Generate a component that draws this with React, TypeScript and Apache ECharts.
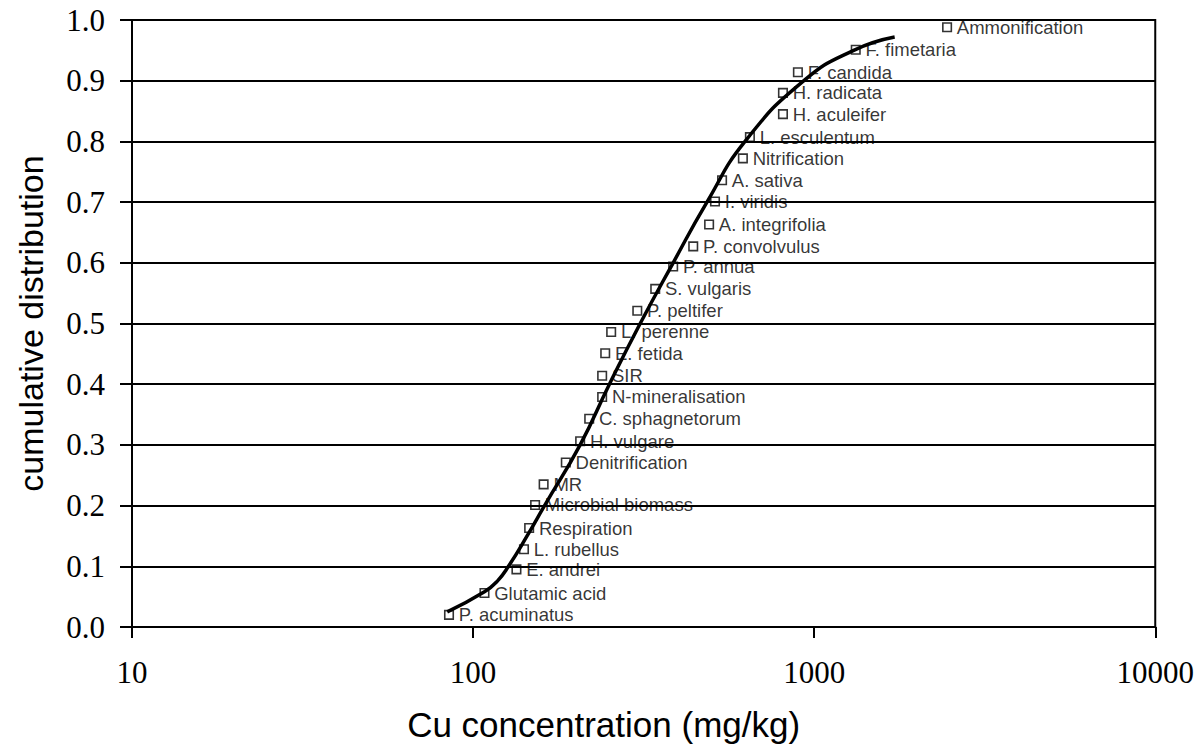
import React, { useEffect, useRef } from "react";
import * as echarts from "echarts";

// Species / process endpoints: Cu concentration (mg/kg) and cumulative fraction
const names: string[] = [
  "P. acuminatus",
  "Glutamic acid",
  "E. andrei",
  "L. rubellus",
  "Respiration",
  "Microbial biomass",
  "MR",
  "Denitrification",
  "H. vulgare",
  "C. sphagnetorum",
  "N-mineralisation",
  "SIR",
  "E. fetida",
  "L. perenne",
  "P. peltifer",
  "S. vulgaris",
  "P. annua",
  "P. convolvulus",
  "A. integrifolia",
  "I. viridis",
  "A. sativa",
  "Nitrification",
  "L. esculentum",
  "H. aculeifer",
  "H. radicata",
  "F. candida",
  "F. fimetaria",
  "Ammonification",
];

const concentrations: number[] = [
  85, 108, 134, 141, 146, 152, 161, 187, 206, 219, 239, 239, 244, 254, 303,
  342, 386, 442, 492, 512, 537, 618, 648, 810, 810, 896, 1324, 2453,
];

const cumulative: number[] = [
  0.02, 0.056, 0.095, 0.128, 0.163, 0.201, 0.235, 0.271, 0.306, 0.343, 0.379,
  0.414, 0.451, 0.486, 0.521, 0.557, 0.594, 0.627, 0.663, 0.701, 0.736, 0.772,
  0.807, 0.845, 0.88, 0.914, 0.951, 0.988,
];

// Fitted distribution curve
const curveX: number[] = [84, 108, 118, 127, 144, 162, 206, 251, 309, 386, 485, 627, 933, 1306, 1722];
const curveY: number[] = [0.025, 0.058, 0.076, 0.1, 0.15, 0.2, 0.3, 0.4, 0.5, 0.6, 0.7, 0.8, 0.9, 0.95, 0.972];

const xTicks: number[] = [10, 100, 1000, 10000];

const serif = "'Times New Roman', 'Liberation Serif', serif";
const sans = "Arial, 'Liberation Sans', sans-serif";

export default function App() {
  const ref = useRef<HTMLDivElement>(null);

  useEffect(() => {
    if (!ref.current) return;
    const chart = echarts.init(ref.current, undefined, { renderer: "svg" });

    const points = names.map((n, i) => ({
      name: n,
      value: [concentrations[i], cumulative[i]],
    }));
    const curve = curveX.map((x, i) => [x, curveY[i]]);

    chart.setOption({
      animation: false,
      backgroundColor: "#ffffff",
      grid: {
        left: 132,
        right: 40,
        top: 20,
        bottom: 125,
        show: true,
        borderColor: "#000",
        borderWidth: 2,
        backgroundColor: "transparent",
      },
      xAxis: {
        type: "log",
        logBase: 10,
        min: 10,
        max: 10000,
        name: "Cu concentration (mg/kg)",
        nameLocation: "middle",
        nameGap: 80,
        nameTextStyle: {
          fontFamily: sans,
          fontSize: 35,
          color: "#000",
          padding: [0, 80, 0, 0],
        },
        axisLine: { show: true, lineStyle: { color: "#000", width: 2 } },
        axisTick: { show: true, inside: false, length: 11, lineStyle: { color: "#000", width: 2 } },
        minorTick: { show: false },
        splitLine: { show: false },
        axisLabel: {
          margin: 30,
          fontFamily: serif,
          fontSize: 31,
          color: "#000",
          formatter: (v: number) => {
            const t = xTicks.find((k) => Math.abs(k - v) / k < 1e-6);
            return t !== undefined ? String(t) : "";
          },
        },
      },
      yAxis: {
        type: "value",
        min: 0,
        max: 1,
        interval: 0.1,
        name: "cumulative distribution",
        nameLocation: "middle",
        nameGap: 84,
        nameTextStyle: { fontFamily: sans, fontSize: 34, color: "#000" },
        axisLine: { show: true, lineStyle: { color: "#000", width: 2 } },
        axisTick: { show: true, inside: false, length: 12, lineStyle: { color: "#000", width: 2 } },
        splitLine: { show: true, lineStyle: { color: "#000", width: 2 } },
        axisLabel: {
          margin: 27,
          fontFamily: serif,
          fontSize: 31,
          color: "#000",
          formatter: (v: number) => v.toFixed(1),
        },
      },
      series: [
        {
          type: "line",
          data: curve,
          smooth: 0.5,
          symbol: "none",
          z: 2,
          lineStyle: { color: "#000", width: 3.5 },
        },
        {
          type: "scatter",
          data: points,
          symbol: "rect",
          symbolSize: 8.5,
          z: 3,
          itemStyle: { color: "none", borderColor: "#000", borderWidth: 1.6 },
          label: {
            show: true,
            position: "right",
            distance: 3,
            formatter: (p: any) => p.name,
            fontFamily: sans,
            fontSize: 18.5,
            color: "#000",
          },
        },
      ],
    });

    return () => chart.dispose();
  }, []);

  return (
    <div
      ref={ref}
      style={{ position: "fixed", left: 0, top: 0, width: 1197, height: 752, background: "#fff" }}
    />
  );
}
